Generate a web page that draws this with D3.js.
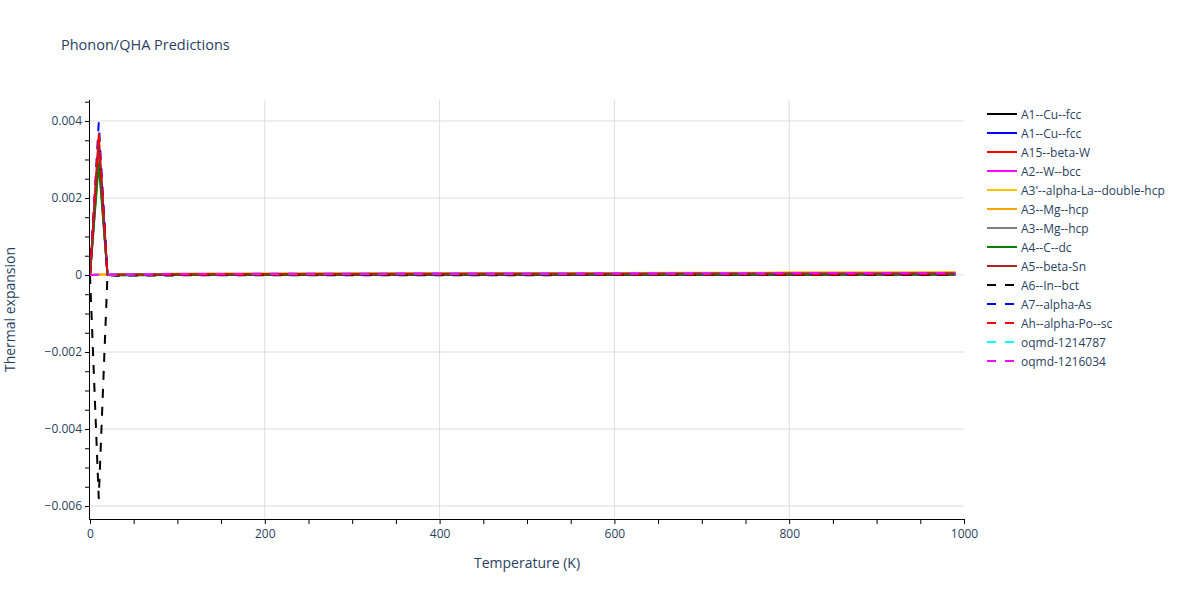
<!DOCTYPE html>
<html><head><meta charset="utf-8">
<script src="https://cdn.jsdelivr.net/npm/d3@7"></script>
<style>body{margin:0;background:#fff;} svg{display:block;font-family:"Open Sans",Verdana,Arial,sans-serif;}</style>
</head><body><svg id="c" width="1200" height="600"></svg>
<script>
const temps = [0, 10, 20, 30, 50, 100, 200, 300, 400, 500, 600, 700, 800, 900, 990];
const seriesNames = ["A1--Cu--fcc","A1--Cu--fcc","A15--beta-W","A2--W--bcc","A3'--alpha-La--double-hcp","A3--Mg--hcp","A3--Mg--hcp","A4--C--dc","A5--beta-Sn","A6--In--bct","A7--alpha-As","Ah--alpha-Po--sc","oqmd-1214787","oqmd-1216034"];
const seriesColors = ["#000000","#0000ff","#ff0000","#ff00ff","#ffc000","#ffa500","#808080","#008000","#b22222","#000000","#0000ff","#ff0000","#00ffff","#ff00ff"];
const seriesDashed = [false,false,false,false,false,false,false,false,false,true,true,true,true,true];
const sA1a = [0, 0.0032, 0, -0.00001, -0.000005, 0, 0.000002, 0.000004, 0.000005, 0.000006, 0.000007, 0.000008, 0.000009, 0.00001, 0.00001];
const sA1b = [0, 0.0034, 0, 0.000005, 0.000008, 0.00001, 0.000012, 0.000013, 0.000014, 0.000015, 0.000016, 0.000017, 0.000018, 0.000019, 0.00002];
const sA15 = [0, 0.00362, 0, 0.000005, 0.000008, 0.00001, 0.000012, 0.000013, 0.000014, 0.000015, 0.000016, 0.000017, 0.000018, 0.000019, 0.00002];
const sA2 = [0, 0.0031, 0, 0.00001, 0.000015, 0.00002, 0.000025, 0.000028, 0.00003, 0.000032, 0.000034, 0.000036, 0.000038, 0.00004, 0.000042];
const sA3p = [0, 0.00001, 0.00001, 0.00001, 0.00002, 0.00003, 0.000035, 0.00004, 0.000043, 0.000046, 0.000049, 0.000052, 0.000055, 0.000058, 0.00006];
const sA3a = [0, 0.00001, 0.00001, 0.00001, 0.00002, 0.00003, 0.000037, 0.000042, 0.000046, 0.00005, 0.000054, 0.000058, 0.000062, 0.000066, 0.00007];
const sA3b = [0, 0.0030, 0, 0.00001, 0.000015, 0.00002, 0.000025, 0.00003, 0.000033, 0.000036, 0.000039, 0.000042, 0.000045, 0.000048, 0.00005];
const sA4 = [0, 0.0029, 0, 0.000002, 0.000004, 0.000006, 0.000008, 0.00001, 0.000011, 0.000012, 0.000013, 0.000014, 0.000015, 0.000016, 0.000017];
const sA5 = [0, 0.0035, 0, 0.00001, 0.000015, 0.00002, 0.000025, 0.000028, 0.00003, 0.000032, 0.000034, 0.000036, 0.000038, 0.00004, 0.000042];
const sA6 = [0, -0.0058, 0, -0.00002, -0.000015, -0.00001, -0.000008, -0.000006, -0.000005, -0.000004, -0.000003, -0.000002, -0.000001, 0, 0];
const sA7 = [0, 0.00395, 0, 0.000005, 0.000008, 0.00001, 0.000012, 0.000013, 0.000014, 0.000015, 0.000016, 0.000017, 0.000018, 0.000019, 0.00002];
const sAh = [0, 0.0037, 0, 0.000002, 0.000004, 0.000006, 0.000008, 0.00001, 0.000011, 0.000012, 0.000013, 0.000014, 0.000015, 0.000016, 0.000017];
const sOq1 = [0, 0.000005, 0.00001, 0.00001, 0.000018, 0.000025, 0.00003, 0.000034, 0.000037, 0.00004, 0.000043, 0.000046, 0.000049, 0.000052, 0.000055];
const sOq2 = [0, 0.000005, 0.00001, 0.00001, 0.000018, 0.000025, 0.00003, 0.000034, 0.000037, 0.00004, 0.000043, 0.000046, 0.000049, 0.000052, 0.000055];
const seriesValues = [sA1a,sA1b,sA15,sA2,sA3p,sA3a,sA3b,sA4,sA5,sA6,sA7,sAh,sOq1,sOq2];
const xTicks = [0,200,400,600,800,1000];
const yTicks = [-0.006,-0.004,-0.002,0,0.002,0.004];

const svg = d3.select("#c");
const L=90, R=964, T=100, B=519;
const x = d3.scaleLinear().domain([0,1000]).range([L,R]);
const y = d3.scaleLinear().domain([-0.006338,0.004545]).range([B,T]);
const txt = "#2a3f5f";

// grid
svg.append("g").selectAll("line").data(xTicks.filter(d=>d>0&&d<1000)).join("line")
  .attr("x1",d=>x(d)).attr("x2",d=>x(d)).attr("y1",T).attr("y2",B).attr("stroke","#dddddd").attr("stroke-width",1);
svg.append("g").selectAll("line").data(yTicks).join("line")
  .attr("x1",L).attr("x2",R).attr("y1",d=>y(d)).attr("y2",d=>y(d)).attr("stroke","#dddddd").attr("stroke-width",1);

// lines
svg.append("clipPath").attr("id","clp").append("rect").attr("x",L).attr("y",T-3).attr("width",R-L).attr("height",B-T+3);
const line = d3.line().x((d,i)=>x(temps[i])).y(d=>y(d));
const gl = svg.append("g").attr("clip-path","url(#clp)");
seriesValues.forEach((vals,i)=>{
  gl.append("path").attr("d",line(vals)).attr("fill","none").attr("stroke",seriesColors[i])
    .attr("stroke-width",2).attr("stroke-linejoin","round")
    .attr("stroke-dasharray",seriesDashed[i]?"9,9":null);
});

// axes
const xAxis = d3.axisBottom(x).tickValues(d3.range(0,1001,50)).tickSize(5).tickFormat(d=>xTicks.includes(d)?d3.format("d")(d):"");
const gx = svg.append("g").attr("transform",`translate(0,${B})`).call(xAxis);
gx.select(".domain").attr("stroke","#000").attr("d",`M${L-1},0.5H${R}`);
gx.selectAll(".tick line").attr("stroke","#000");
gx.selectAll(".tick text").attr("fill",txt).attr("font-size",12).attr("dy","0.9em").attr("font-family","Open Sans, Verdana, sans-serif");

const yMinor = d3.range(-12,10).map(k=>k*0.0005);
const fmtY = d=>{ if(Math.abs(d)<1e-12) return "0"; return (d<0?"\u2212":"")+Math.abs(d).toFixed(3); };
const yAxis = d3.axisLeft(y).tickValues(yMinor).tickSize(5).tickFormat(d=>{const k=Math.round(d/0.0005); return k%4===0?fmtY(d):"";});
const gy = svg.append("g").attr("transform",`translate(${L},0)`).call(yAxis);
gy.select(".domain").attr("stroke","#000").attr("d",`M-0.5,${T}V${B}`);
gy.selectAll(".tick line").attr("stroke","#000");
gy.selectAll(".tick text").attr("fill",txt).attr("font-size",12).attr("x",-8).attr("font-family","Open Sans, Verdana, sans-serif");

// titles
svg.append("text").attr("x",61).attr("y",50).attr("fill",txt).attr("font-size",14.5).text("Phonon/QHA Predictions");
svg.append("text").attr("x",(L+R)/2).attr("y",568).attr("text-anchor","middle").attr("fill",txt).attr("font-size",14).text("Temperature (K)");
svg.append("text").attr("transform",`translate(15,${(T+B)/2}) rotate(-90)`).attr("text-anchor","middle").attr("fill",txt).attr("font-size",14).text("Thermal expansion");

// legend
const lg = svg.append("g");
seriesNames.forEach((n,i)=>{
  const yy = 114 + i*19;
  lg.append("line").attr("x1",987).attr("x2",1017).attr("y1",yy).attr("y2",yy).attr("stroke",seriesColors[i]).attr("stroke-width",2)
    .attr("stroke-dasharray",seriesDashed[i]?"9,9":null);
  lg.append("text").attr("x",1021).attr("y",yy+4.5).attr("fill",txt).attr("font-size",12).text(n);
});
</script></body></html>
